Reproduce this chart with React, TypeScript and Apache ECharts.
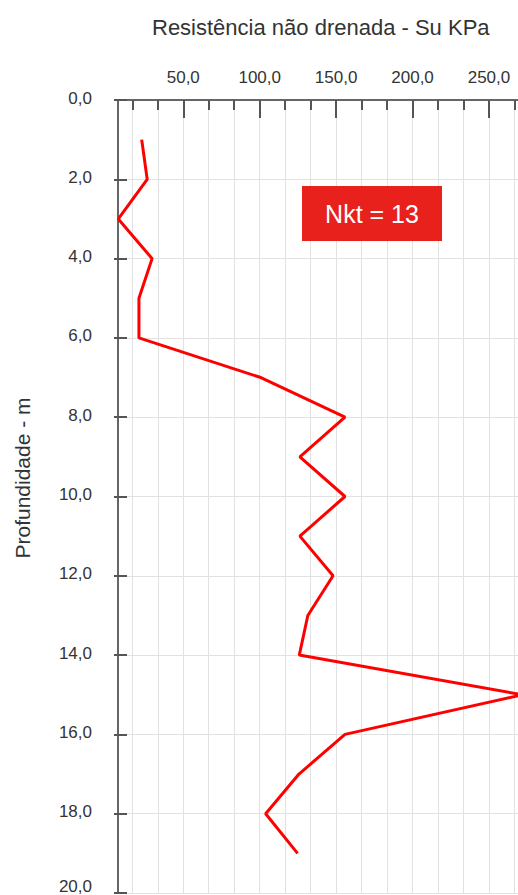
import React, { useEffect, useRef } from "react";
import * as echarts from "echarts";

const depths = [1, 2, 3, 4, 5, 6, 7, 8, 9, 10, 11, 12, 13, 14, 15, 16, 17, 18, 19];
const suValues = [22.8, 26.4, 7.5, 29.6, 21, 21, 100.8, 155.8, 126.3, 155.8, 126.3, 148, 131.5, 125.9, 272, 155.8, 125.7, 103.9, 124.8];
const xMajorTicks = [50, 100, 150, 200, 250];
const xGridTicks = [16.667, 33.333, 50, 66.667, 83.333, 100, 116.667, 133.333, 150, 166.667, 183.333, 200, 216.667, 233.333, 250, 266.667];
const xMin = 7.3;
const xMax = 269;
const yMin = 0;
const yMax = 20;
const yInterval = 2;
const titleText = "Resistência não drenada - Su KPa";
const yTitle = "Profundidade - m";
const noteText = "Nkt = 13";

const fmt = (v: number) => v.toFixed(1).replace(".", ",");

export default function App() {
  const ref = useRef<HTMLDivElement>(null);
  useEffect(() => {
    if (!ref.current) return;
    const chart = echarts.init(ref.current, null, { renderer: "svg" });
    const font = "Liberation Sans";
    const axisColor = "#666";
    const gridColor = "#e2e2e2";
    chart.setOption({
      animation: false,
      textStyle: { fontFamily: font },
      title: {
        text: titleText,
        left: 147,
        top: 11,
        textStyle: { fontFamily: font, fontSize: 22, fontWeight: "normal", color: "#333" },
      },
      grid: { left: 118, top: 100, right: 0, bottom: 2, containLabel: false, outerBoundsMode: "none" },
      xAxis: [
        {
          type: "value",
          position: "top",
          min: xMin,
          max: xMax,
          axisLine: { show: true, lineStyle: { color: axisColor, width: 2 } },
          axisTick: { show: true, inside: true, length: 18, customValues: xMajorTicks, lineStyle: { color: "#555", width: 2 } },
          axisLabel: { customValues: xMajorTicks, formatter: fmt, fontSize: 17, color: "#333", margin: 14, fontFamily: font },
          splitLine: { show: false },
        },
        {
          type: "value",
          position: "top",
          min: xMin,
          max: xMax,
          axisLine: { show: false },
          axisTick: { show: true, inside: true, length: 10, customValues: xGridTicks, lineStyle: { color: "#555", width: 2 } },
          axisLabel: { show: false, customValues: xGridTicks },
          splitLine: { show: true, lineStyle: { color: gridColor, width: 1 } },
        },
      ],
      yAxis: [
        {
          type: "value",
          inverse: true,
          position: "left",
          min: yMin,
          max: yMax,
          interval: yInterval,
          axisLine: { show: true, lineStyle: { color: axisColor, width: 2 } },
          axisTick: { show: true, inside: true, length: 9, lineStyle: { color: "#555", width: 2 } },
          axisLabel: {
            formatter: (v: number) => (v === yMax ? "{b|" + fmt(v) + "}" : "{a|" + fmt(v) + "}"),
            fontSize: 17,
            color: "#333",
            margin: 26,
            fontFamily: font,
            rich: {
              a: { fontSize: 17, color: "#333", fontFamily: font, padding: [0, 0, 4, 0] },
              b: { fontSize: 17, color: "#333", fontFamily: font, padding: [0, 0, 14, 0] },
            },
          },
          splitLine: { show: true, lineStyle: { color: gridColor, width: 1 } },
        },
        {
          type: "value",
          inverse: true,
          position: "left",
          min: yMin,
          max: yMax,
          interval: yInterval,
          axisLine: { show: false },
          axisTick: { show: true, inside: false, length: 4, lineStyle: { color: "#555", width: 2 } },
          axisLabel: { show: false },
          splitLine: { show: false },
        },
      ],
      graphic: [
        {
          type: "text",
          x: 22,
          y: 478,
          rotation: Math.PI / 2,
          style: { text: yTitle, fontSize: 21, fill: "#333", fontFamily: font, align: "center", verticalAlign: "middle" },
        },
        {
          type: "rect",
          shape: { x: 302, y: 186, width: 140, height: 55 },
          style: { fill: "#e8211d" },
          z: 10,
        },
        {
          type: "text",
          x: 372,
          y: 213.5,
          style: { text: noteText, fontSize: 25, fill: "#fff", fontFamily: font, align: "center", verticalAlign: "middle" },
          z: 11,
        },
      ],
      series: [
        {
          type: "line",
          xAxisIndex: 0,
          yAxisIndex: 0,
          data: depths.map((d, i) => [suValues[i], d]),
          symbol: "none",
          lineStyle: { color: "#ff0000", width: 3 },
          z: 5,
        },
      ],
    });
    return () => chart.dispose();
  }, []);
  return <div ref={ref} style={{ position: "fixed", left: 0, top: 0, width: 518, height: 895, background: "#fff" }} />;
}
